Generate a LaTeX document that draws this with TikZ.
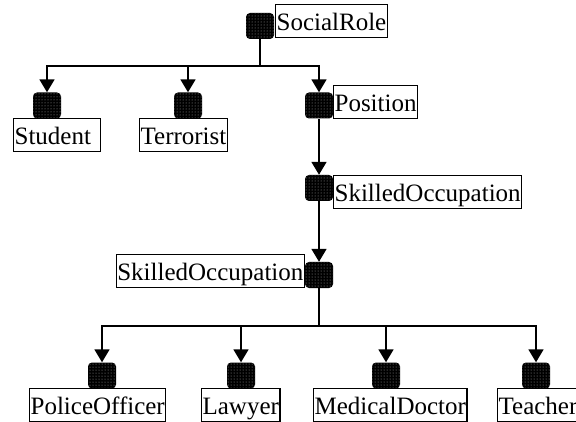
\documentclass[tikz,border=0pt]{standalone}
\usepackage{fontspec}
\setmainfont{Liberation Serif}
\usetikzlibrary{arrows.meta,patterns}
\tikzset{
  concept/.style={fill=black, rounded corners=4pt, minimum width=28pt, minimum height=26pt, inner sep=0pt,
    postaction={pattern=dots, pattern color=gray!70}},
  lbl/.style={draw, line width=1.2pt, fill=white, inner xsep=1pt, inner ysep=3pt,
    text height=23pt, text depth=4pt, font=\fontsize{25pt}{30pt}\selectfont},
  link/.style={line width=1.8pt, -{Triangle[length=13pt,width=15pt]}}
}
\begin{document}
\begin{tikzpicture}[x=1pt,y=1pt]
\useasboundingbox (0,0) rectangle (576,421);
\node[concept] (socialrole) at (260,395) {};
\node[concept] (student) at (47,315.5) {};
\node[concept] (terrorist) at (188,315.5) {};
\node[concept] (position) at (319,315.5) {};
\node[concept] (skilled1) at (319,233) {};
\node[concept] (skilled2) at (319,146) {};
\node[concept] (police) at (102,45.5) {};
\node[concept] (lawyer) at (241,45.5) {};
\node[concept] (doctor) at (386,45.5) {};
\node[concept] (teacher) at (536,45.5) {};
  \node[lbl, anchor=south west] (socialroleL) at (275,383) {SocialRole};
  \node[lbl, anchor=north west, text width=85pt, align=left] (studentL) at (13,303) {Student};
  \node[lbl, anchor=north west] (terroristL) at (139,303) {Terrorist};
  \node[lbl, anchor=south west] (positionL) at (333,302) {Position};
  \node[lbl, anchor=north west] (skilled1L) at (333,246) {SkilledOccupation};
  \node[lbl, anchor=south east] (skilled2L) at (305,133) {SkilledOccupation};
  \node[lbl, anchor=north west] (policeL) at (29,33) {PoliceOfficer};
  \node[lbl, anchor=north west] (lawyerL) at (201,33) {Lawyer};
  \node[lbl, anchor=north west] (doctorL) at (313,33) {MedicalDoctor};
  \node[lbl, anchor=north west] (teacherL) at (497,33) {Teacher};
\draw[link] (socialrole.south) -- ++(0,-27) -| (student.north);
\draw[link] (socialrole.south) -- ++(0,-27) -| (terrorist.north);
\draw[link] (socialrole.south) -- ++(0,-27) -| (position.north);
\draw[link] (position.south) -- (skilled1.north);
\draw[link] (skilled1.south) -- (skilled2.north);
\draw[link] (skilled2.south) -- ++(0,-38) -| (police.north);
\draw[link] (skilled2.south) -- ++(0,-38) -| (lawyer.north);
\draw[link] (skilled2.south) -- ++(0,-38) -| (doctor.north);
\draw[link] (skilled2.south) -- ++(0,-38) -| (teacher.north);
\end{tikzpicture}
\end{document}
